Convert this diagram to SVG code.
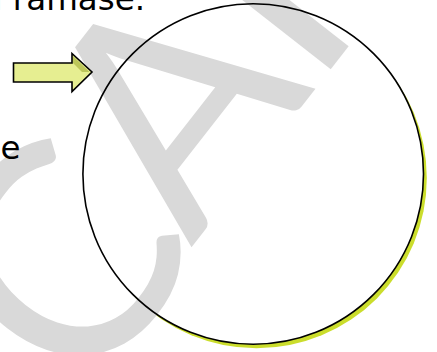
<svg xmlns="http://www.w3.org/2000/svg" width="437" height="352" viewBox="0 0 437 352">
  <style>
    .txt { font-family: "DejaVu Sans", Verdana, sans-serif; font-size: 32.5px; fill: #000; }
    .wm { font-family: Lato, "Open Sans", sans-serif; font-weight: 400; font-size: 300px; fill: #d9d9d9; }
  </style>
  <rect width="437" height="352" fill="#ffffff"/>
  <g id="circle-fill">
    <circle cx="256.5" cy="178" r="170.3" fill="#cbdd2c"/>
    <circle cx="253.2" cy="174" r="170.3" fill="#ffffff"/>
  </g>
  <g id="watermark">
    <text class="wm" transform="translate(253.5,168) rotate(-52)" x="-192 0 140" y="12 0 0" text-anchor="middle">CAI</text>
  </g>
  <g id="circle">
    <circle cx="253.2" cy="174" r="170.3" fill="none" stroke="#000" stroke-width="1.6"/>
  </g>
  <g id="arrow">
    <polygon points="13.5,63 72,63 72,53.5 92,72 72,91.5 72,82 13.5,82" fill="#e6ee91"/>
    <polygon points="73,56 89.5,72 82,72 73,63" fill="#bcc65a"/>
    <polygon points="13.5,63 72,63 72,53.5 92,72 72,91.5 72,82 13.5,82" fill="none" stroke="#000" stroke-width="1.6"/>
  </g>
  <g id="texts">
    <text class="txt" x="145" y="10" text-anchor="end">il ramase.</text>
    <text class="txt" x="20.5" y="159" text-anchor="end">se</text>
  </g>
</svg>
